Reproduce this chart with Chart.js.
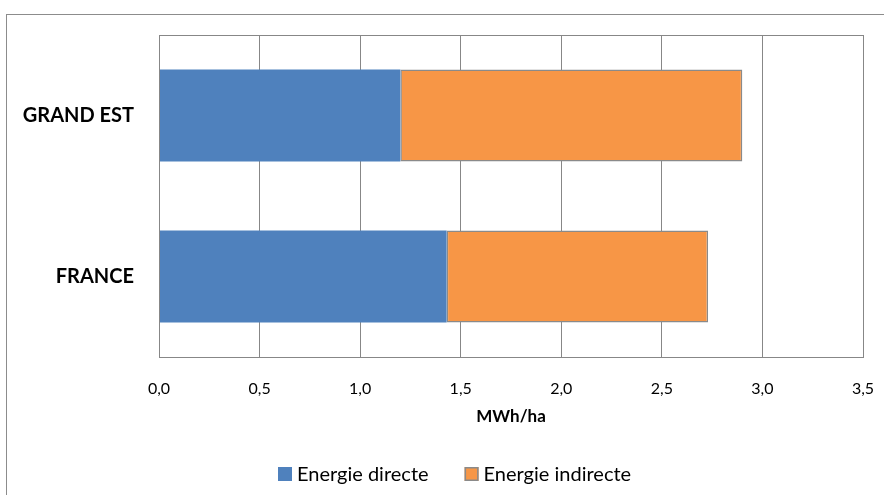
<!DOCTYPE html>
<html>
<head>
<meta charset="utf-8">
<script src="https://cdn.jsdelivr.net/npm/chart.js@4"></script>
<style>
  html, body { margin: 0; padding: 0; background: #fff; }
  #wrap { width: 884px; height: 495px; }
</style>
</head>
<body>
<div id="wrap"><canvas id="c" width="884" height="495"></canvas></div>
<script>
// Energy use per hectare, split into direct and indirect energy
const categories = ['GRAND EST', 'FRANCE'];
const energieDirecte = [1.2, 1.43];
const energieIndirecte = [1.7, 1.3];
const axisMin = 0;
const axisMax = 3.5;
const axisStep = 0.5;
const axisTitle = 'MWh/ha';
const seriesNames = ['Energie directe', 'Energie indirecte'];

const FONT = 'Lato, "Open Sans", sans-serif';
const GRID = '#878787';
const COLORS = ['#4F81BD', '#F79646'];
const EDGE = '#8a8a8a';

// White page with the outer frame and a full box around the plot area
const framePlugin = {
  id: 'frame',
  beforeDraw(chart) {
    const ctx = chart.ctx;
    ctx.save();
    ctx.fillStyle = '#fff';
    ctx.fillRect(0, 0, chart.width, chart.height);
    ctx.strokeStyle = '#8c8c8c';
    ctx.lineWidth = 1;
    ctx.strokeRect(6.5, 14.5, chart.width + 20, chart.height + 20);
    ctx.restore();
  },
  afterDraw(chart) {
    const a = chart.chartArea;
    const ctx = chart.ctx;
    ctx.save();
    ctx.strokeStyle = GRID;
    ctx.lineWidth = 1;
    ctx.strokeRect(Math.round(a.left) + 0.5, Math.round(a.top) + 0.5,
                   Math.round(a.right - a.left), Math.round(a.bottom - a.top));
    ctx.restore();
  }
};

// Series key under the axis title, centred on one row
const keyPlugin = {
  id: 'seriesKey',
  afterDraw(chart) {
    const ctx = chart.ctx;
    const box = 14, gap = 5, spacing = 36, cy = 474, centre = 455;
    ctx.save();
    ctx.font = '20px ' + FONT;
    ctx.textBaseline = 'middle';
    ctx.textAlign = 'left';
    const items = chart.data.datasets.map(d => ({
      text: d.label, fill: d.backgroundColor, edge: d.borderWidth ? d.borderColor : null,
      w: ctx.measureText(d.label).width
    }));
    let total = 0;
    items.forEach((it, i) => { total += box + gap + it.w + (i ? spacing : 0); });
    let x = Math.round(centre - total / 2);
    items.forEach(it => {
      ctx.fillStyle = it.fill;
      ctx.fillRect(x, cy - box / 2, box, box);
      if (it.edge) {
        ctx.strokeStyle = it.edge;
        ctx.lineWidth = 1.5;
        ctx.strokeRect(x + 0.75, cy - box / 2 + 0.75, box - 1.5, box - 1.5);
      }
      ctx.fillStyle = '#000';
      ctx.fillText(it.text, x + box + gap, cy + 1);
      x += box + gap + it.w + spacing;
    });
    ctx.restore();
  }
};

new Chart(document.getElementById('c'), {
  type: 'bar',
  data: {
    labels: categories,
    datasets: [
      {
        label: seriesNames[0],
        data: energieDirecte,
        backgroundColor: COLORS[0],
        borderWidth: 0,
        categoryPercentage: 1,
        barPercentage: 0.57
      },
      {
        label: seriesNames[1],
        data: energieIndirecte,
        backgroundColor: COLORS[1],
        borderColor: EDGE,
        borderWidth: 1.5,
        borderSkipped: false,
        categoryPercentage: 1,
        barPercentage: 0.57
      }
    ]
  },
  options: {
    indexAxis: 'y',
    responsive: false,
    animation: false,
    layout: { padding: { left: 0, top: 35, right: 21, bottom: 61 } },
    plugins: {
      tooltip: { enabled: false },
      legend: { display: false }
    },
    scales: {
      x: {
        stacked: true,
        min: axisMin,
        max: axisMax,
        ticks: {
          stepSize: axisStep,
          color: '#000',
          font: { family: FONT, size: 16 },
          padding: 22,
          callback: v => Number(v).toFixed(1).replace('.', ',')
        },
        grid: { color: GRID, drawTicks: false, lineWidth: 1 },
        border: { display: true, color: GRID },
        title: {
          display: true,
          text: axisTitle,
          color: '#000',
          font: { family: FONT, size: 17, weight: 'bold' },
          padding: { top: 4, bottom: 7 }
        },
        afterFit(s) { s.height = 77; s.paddingLeft = 0; s.paddingRight = 0; }
      },
      y: {
        stacked: true,
        grid: { display: false, drawTicks: false },
        border: { display: true, color: GRID },
        ticks: {
          color: '#000',
          font: { family: FONT, size: 20, weight: 'bold' },
          padding: 25
        },
        afterFit(s) { s.width = 159; s.paddingTop = 0; s.paddingBottom = 0; }
      }
    }
  },
  plugins: [framePlugin, keyPlugin]
});
</script>
</body>
</html>
